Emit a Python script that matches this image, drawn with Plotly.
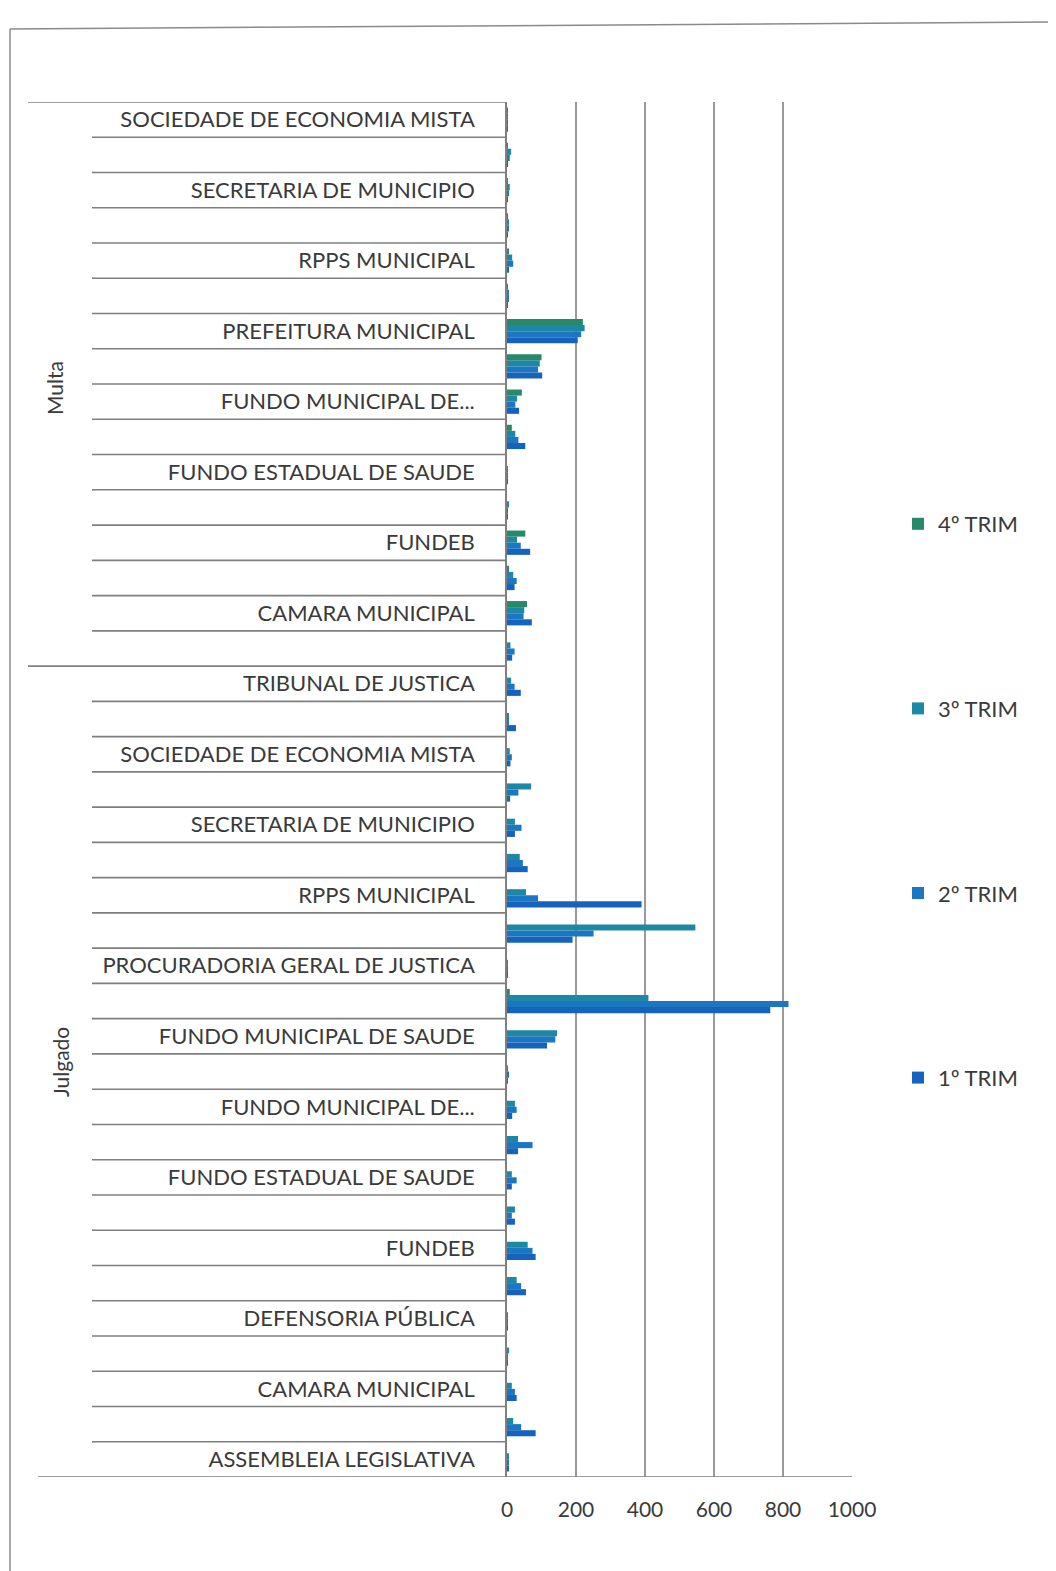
import plotly.graph_objects as go

# categories read top -> bottom (hidden ones are the unlabeled rows between labels)
multa_cats = [
    "SOCIEDADE DE ECONOMIA MISTA", "SERVICO AUTONOMO", "SECRETARIA DE MUNICIPIO",
    "SECRETARIA DE ESTADO", "RPPS MUNICIPAL", "RPPS ESTADUAL", "PREFEITURA MUNICIPAL",
    "FUNDO MUNICIPAL DE SAUDE", "FUNDO MUNICIPAL DE...", "FUNDO MUNICIPAL DE ASSISTENCIA SOCIAL",
    "FUNDO ESTADUAL DE SAUDE", "FUNDO ESTADUAL DE ASSISTENCIA SOCIAL", "FUNDEB",
    "CONSORCIO PUBLICO", "CAMARA MUNICIPAL", "AUTARQUIA MUNICIPAL",
]
julgado_cats = [
    "TRIBUNAL DE JUSTICA", "TRIBUNAL DE CONTAS", "SOCIEDADE DE ECONOMIA MISTA",
    "SERVICO AUTONOMO", "SECRETARIA DE MUNICIPIO", "SECRETARIA DE ESTADO", "RPPS MUNICIPAL",
    "RPPS ESTADUAL", "PROCURADORIA GERAL DE JUSTICA", "PREFEITURA MUNICIPAL",
    "FUNDO MUNICIPAL DE SAUDE", "FUNDO MUNICIPAL DE PREVIDENCIA", "FUNDO MUNICIPAL DE...",
    "FUNDO MUNICIPAL DE ASSISTENCIA SOCIAL", "FUNDO ESTADUAL DE SAUDE",
    "FUNDO ESTADUAL DE ASSISTENCIA SOCIAL", "FUNDEB", "EMPRESA PUBLICA", "DEFENSORIA PÚBLICA",
    "CONSORCIO PUBLICO", "CAMARA MUNICIPAL", "AUTARQUIA MUNICIPAL", "ASSEMBLEIA LEGISLATIVA",
]

# values top -> bottom, Multa rows then Julgado rows
trim4 = [2, 2, 2, 2, 3, 2, 220, 100, 43, 14, 0, 0, 53, 3, 58, 0,
         0, 0, 0, 0, 0, 0, 0, 0, 0, 8, 0, 0, 0, 0, 0, 0, 0, 0, 0, 0, 0, 0, 0]
trim3 = [2, 12, 8, 3, 15, 3, 225, 95, 29, 24, 2, 3, 29, 18, 50, 10,
         12, 3, 8, 70, 23, 37, 55, 546, 2, 410, 145, 2, 23, 32, 14, 23, 60, 28, 2, 3, 14, 18, 3]
trim2 = [2, 8, 6, 3, 18, 3, 215, 90, 24, 33, 2, 2, 40, 28, 48, 22,
         22, 4, 14, 33, 42, 46, 90, 251, 2, 816, 140, 3, 28, 74, 28, 14, 74, 41, 2, 2, 23, 41, 3]
trim1 = [2, 2, 2, 2, 5, 2, 205, 102, 35, 53, 1, 2, 67, 22, 72, 15,
         40, 26, 10, 9, 23, 60, 390, 190, 2, 763, 116, 2, 15, 32, 14, 23, 83, 55, 2, 2, 28, 83, 4]

series = [("1º TRIM", trim1, "#1663bd"), ("2º TRIM", trim2, "#1b77c2"),
          ("3º TRIM", trim3, "#1f87a6"), ("4º TRIM", trim4, "#25896a")]

# Excel draws the first category at the bottom
cats = (multa_cats + julgado_cats)[::-1]
groups = (["Multa"] * len(multa_cats) + ["Julgado"] * len(julgado_cats))[::-1]
n = len(cats)
pos = list(range(n))

# page size and plot area, in on-screen pixels (page body has an 8px margin)
W, H, OFF = 1056, 1571, 8
L, R, T, B = 507, 852, 102, 1477


def px(x):
    return (x - L) / (R - L)


def py(y):
    return (B - y) / (B - T)


fig = go.Figure()
for i, (name, vals, color) in enumerate(series):
    fig.add_trace(go.Bar(
        y=pos, x=vals[::-1], name=name, orientation="h", legendgroup=name,
        legendrank=len(series) - i,
        marker=dict(color=color, line=dict(width=0)),
        customdata=[[g, c] for g, c in zip(groups, cats)],
        hovertemplate="%{customdata[0]} - %{customdata[1]}<br>%{x}<extra>" + name + "</extra>",
    ))

# category tick lines (Excel multi-level axis look)
shapes = []
n_julgado = len(julgado_cats)
for k in range(n + 1):
    yb = k - 0.5
    if k == 0:
        x0, x1 = px(38), 1
    elif k == n or k == n_julgado:
        x0, x1 = px(28), 0
    else:
        x0, x1 = px(92), 0
    shapes.append(dict(type="line", xref="paper", yref="y", x0=x0, x1=x1, y0=yb, y1=yb,
                       line=dict(color="#7f7f7f", width=1.6)))

# chart frame (top and left edges visible in the scan)
shapes.append(dict(type="line", xref="paper", yref="paper", x0=px(10), x1=px(1056),
                   y0=py(29), y1=py(22), line=dict(color="#8a8a8a", width=1.5)))
shapes.append(dict(type="line", xref="paper", yref="paper", x0=px(10), x1=px(10),
                   y0=py(29), y1=py(1571), line=dict(color="#8a8a8a", width=1.5)))

FONT = "Lato, Open Sans, sans-serif"
label_font = dict(family=FONT, size=22, color="#3a3a3a")

fig.update_layout(
    width=W - OFF, height=H - OFF,
    margin=dict(l=L - OFF, r=W - R, t=T - OFF, b=H - B),
    paper_bgcolor="white", plot_bgcolor="white",
    barmode="group", bargap=0.31, bargroupgap=0,
    font=label_font,
    shapes=shapes,
    showlegend=True,
    legend=dict(x=px(898), y=py(503), xanchor="left", yanchor="top",
                traceorder="grouped", tracegroupgap=153,
                font=dict(family=FONT, size=22, color="#3a3a3a"),
                bgcolor="rgba(0,0,0,0)"),
    annotations=[
        dict(text="Multa", xref="paper", yref="paper", x=px(55), y=py(388),
             xanchor="center", yanchor="middle",
             showarrow=False, textangle=-90, font=dict(family=FONT, size=21, color="#3a3a3a")),
        dict(text="Julgado", xref="paper", yref="paper", x=px(60), y=py(1062),
             xanchor="center", yanchor="middle",
             showarrow=False, textangle=-90, font=dict(family=FONT, size=21, color="#3a3a3a")),
    ],
)

fig.update_xaxes(
    range=[0, 1000], dtick=200, showgrid=True, gridcolor="#9a9a9a", gridwidth=1.5,
    zeroline=False, showline=False, ticks="", ticklabelstandoff=18,
    tickfont=dict(family=FONT, size=21, color="#3a3a3a"),
)
fig.update_yaxes(
    range=[-0.5, n - 0.5], tickmode="array",
    tickvals=pos[::2], ticktext=cats[::2],
    showgrid=False, zeroline=False, showline=True, linecolor="#7f7f7f", linewidth=1.6,
    ticks="", ticklabelstandoff=26, tickfont=label_font,
)

fig.write_html("out.html")
